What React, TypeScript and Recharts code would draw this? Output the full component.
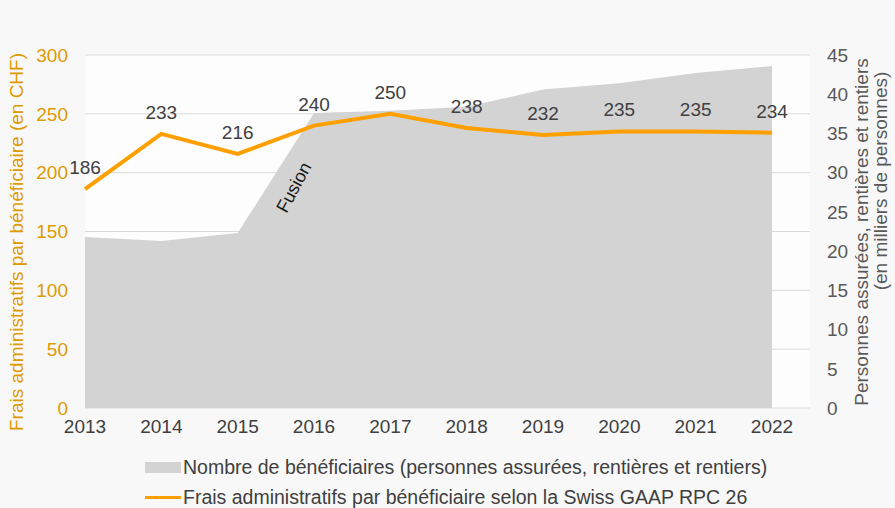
import {
  ComposedChart,
  Area,
  Line,
  XAxis,
  YAxis,
  CartesianGrid,
  LabelList,
  ReferenceDot,
} from 'recharts';

// years on the x axis
const years = ['2013', '2014', '2015', '2016', '2017', '2018', '2019', '2020', '2021', '2022'];
// beneficiaries, in thousands of persons (right axis)
const beneficiaries = [21.8, 21.3, 22.3, 37.6, 37.9, 38.4, 40.6, 41.4, 42.7, 43.6];
// admin costs per beneficiary, CHF (left axis)
const costs = [186, 233, 216, 240, 250, 238, 232, 235, 235, 234];

const leftTicks = [0, 50, 100, 150, 200, 250, 300];
const rightTicks = [0, 5, 10, 15, 20, 25, 30, 35, 40, 45];

const data = years.map((year, i) => ({
  year,
  beneficiaries: beneficiaries[i],
  costs: costs[i],
}));

const FONT = '"Liberation Sans", Arial, sans-serif';
const ORANGE = '#FFA000';
const ORANGE_TEXT = '#DF9A00';
const TEXT = '#404040';
const FS = 19;

const FusionLabel = (props: any) => {
  const { cx, cy } = props;
  if (cx == null || cy == null) return null;
  const x = cx - 19;
  return (
    <text
      x={x}
      y={cy}
      fill="#1a1a1a"
      fontSize={18}
      fontFamily={FONT}
      textAnchor="middle"
      dominantBaseline="middle"
      transform={`rotate(-62 ${x} ${cy})`}
    >
      Fusion
    </text>
  );
};

export default function App() {
  return (
    <div
      style={{
        position: 'absolute',
        left: 0,
        top: 0,
        width: 895,
        height: 508,
        background: '#F8F8F8',
        fontFamily: FONT,
      }}
    >
      <ComposedChart
        width={895}
        height={508}
        data={data}
        margin={{ top: 55, right: 0, bottom: 70, left: 0 }}
      >
        <CartesianGrid
          yAxisId="left"
          vertical={false}
          stroke="#DADADA"
          fill="#FDFDFD"
        />
        <XAxis
          dataKey="year"
          padding={{ left: 0, right: 38 }}
          axisLine={false}
          tickLine={false}
          tickMargin={6}
          height={30}
          tick={{ fill: TEXT, fontSize: FS, fontFamily: FONT }}
        />
        <YAxis
          yAxisId="left"
          orientation="left"
          width={85}
          domain={[0, 300]}
          ticks={leftTicks}
          axisLine={false}
          tickLine={false}
          tickMargin={11}
          tick={{ fill: ORANGE_TEXT, fontSize: FS, fontFamily: FONT }}
        />
        <YAxis
          yAxisId="right"
          orientation="right"
          width={85}
          domain={[0, 45]}
          ticks={rightTicks}
          axisLine={false}
          tickLine={false}
          tickMargin={11}
          tick={{ fill: '#595959', fontSize: FS, fontFamily: FONT, textAnchor: 'start' }}
        />
        <Area
          yAxisId="right"
          type="linear"
          dataKey="beneficiaries"
          fill="#D3D3D3"
          fillOpacity={1}
          stroke="none"
          isAnimationActive={false}
        />
        <Line
          yAxisId="left"
          type="linear"
          dataKey="costs"
          stroke={ORANGE}
          strokeWidth={4}
          dot={false}
          activeDot={false}
          isAnimationActive={false}
        >
          <LabelList
            dataKey="costs"
            position="top"
            offset={15}
            fill={TEXT}
            fontSize={FS}
            fontFamily={FONT}
          />
        </Line>
        <ReferenceDot
          yAxisId="left"
          x="2016"
          y={187}
          ifOverflow="visible"
          shape={FusionLabel}
        />
      </ComposedChart>

      <svg
        width={895}
        height={508}
        style={{ position: 'absolute', left: 0, top: 0, pointerEvents: 'none' }}
      >
        <text
          x={18}
          y={242}
          fill={ORANGE_TEXT}
          fontSize={FS}
          fontFamily={FONT}
          textAnchor="middle"
          dominantBaseline="middle"
          transform="rotate(-90 18 242)"
        >
          Frais administratifs par bénéficiaire (en CHF)
        </text>
        <text
          x={863}
          y={232}
          fill="#595959"
          fontSize={FS}
          fontFamily={FONT}
          textAnchor="middle"
          dominantBaseline="middle"
          transform="rotate(-90 863 232)"
        >
          Personnes assurées, rentières et rentiers
        </text>
        <text
          x={882}
          y={181}
          fill="#595959"
          fontSize={FS}
          fontFamily={FONT}
          textAnchor="middle"
          dominantBaseline="middle"
          transform="rotate(-90 882 181)"
        >
          (en milliers de personnes)
        </text>
      </svg>

      <div style={{ position: 'absolute', left: 145, top: 456, fontSize: 19.5, color: TEXT, lineHeight: '22px' }}>
        <div style={{ display: 'flex', alignItems: 'center', height: 22 }}>
          <span style={{ display: 'inline-block', width: 36, height: 11, background: '#D3D3D3', marginRight: 2 }} />
          <span>Nombre de bénéficiaires (personnes assurées, rentières et rentiers)</span>
        </div>
        <div style={{ display: 'flex', alignItems: 'center', height: 22, marginTop: 8 }}>
          <span style={{ display: 'inline-block', width: 36, height: 3, background: ORANGE, marginRight: 2 }} />
          <span>Frais administratifs par bénéficiaire selon la Swiss GAAP RPC 26</span>
        </div>
      </div>
    </div>
  );
}
